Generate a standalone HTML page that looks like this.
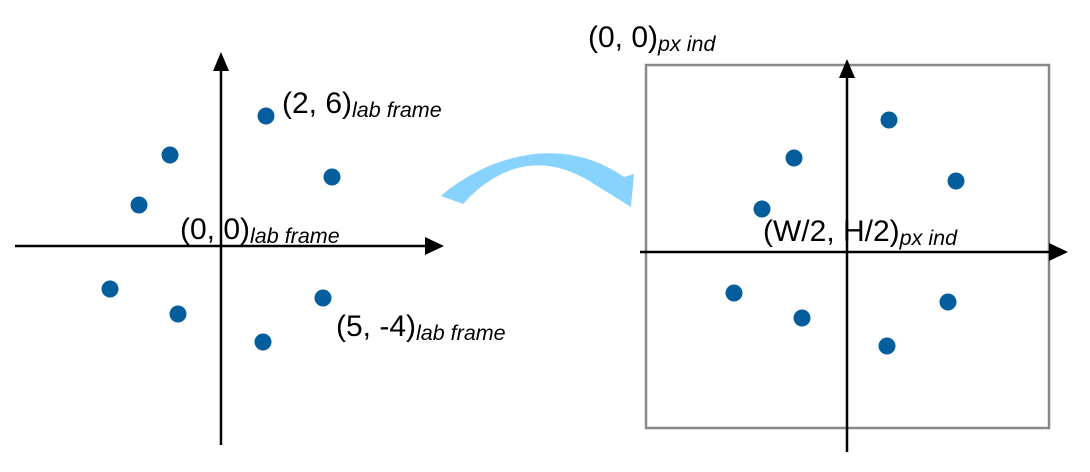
<!DOCTYPE html>
<html><head><meta charset="utf-8"><style>
html,body{margin:0;padding:0;background:#fff}
svg{display:block}
text{font-family:"Liberation Sans",sans-serif;fill:#000}
</style></head><body>
<svg id="c" width="1090" height="472" viewBox="0 0 1090 472">
<g>
<line x1="15" y1="246" x2="430" y2="246" stroke="#000" stroke-width="2.5"/>
<line x1="221" y1="445" x2="221" y2="68" stroke="#000" stroke-width="2.5"/>
<path d="M213,71 L221,52 L229,71 Z" fill="#000"/>
<path d="M425,237 L444,246 L425,255 Z" fill="#000"/>
<g id="leftDots"></g>
<text x="282" y="113" font-size="30">(2, 6)<tspan font-size="21.5" font-style="italic" dy="4">lab frame</tspan></text>
<text x="180" y="239" font-size="30">(0, 0)<tspan font-size="21.5" font-style="italic" dy="4">lab frame</tspan></text>
<text x="336" y="336" font-size="30">(5, -4)<tspan font-size="21.5" font-style="italic" dy="4">lab frame</tspan></text>
</g>
<path d="M441,196 C485,158 560,132 624,177 L634,174 L631,207 L594,184 C545,152 500,163 463,204 Z" fill="#87d3fe"/>
<g>
<rect x="646" y="65" width="403" height="363" fill="none" stroke="#888" stroke-width="2.5"/>
<line x1="640" y1="252" x2="1052" y2="252" stroke="#000" stroke-width="2.5"/>
<path d="M1049,243 L1068,252 L1049,261 Z" fill="#000"/>
<line x1="847" y1="452" x2="847" y2="74" stroke="#000" stroke-width="2.5"/>
<path d="M839,78 L847,59 L855,78 Z" fill="#000"/>
<g id="rightDots"></g>
<text x="588" y="47" font-size="30">(0, 0)<tspan font-size="21.5" font-style="italic" dy="4">px ind</tspan></text>
<text x="763" y="241" font-size="30">(W/2, H/2)<tspan font-size="21.5" font-style="italic" dy="4">px ind</tspan></text>
</g>
</svg>
<script>
// point positions in lab-frame units (1 unit = 20px)
const labX = [2.25, -2.55, 5.55, -4.1, -5.55, -2.15, 5.1, 2.1];
const labY = [6.5, 4.55, 3.45, 2.05, -2.15, -3.4, -2.6, -4.8];
const pxX = [2.1, -2.65, 5.45, -4.25, -5.65, -2.25, 5.05, 2.0];
const pxY = [6.6, 4.7, 3.55, 2.15, -2.05, -3.3, -2.5, -4.7];
const ns = "http://www.w3.org/2000/svg";
function sx(ox, v){return ox + v*20;}
function sy(oy, v){return oy - v*20;}
function drawDots(gid, xs, ys, ox, oy, prefix){
  const g = document.getElementById(gid);
  for(let i=0;i<xs.length;i++){
    const c = document.createElementNS(ns,"circle");
    c.setAttribute("cx", sx(ox, xs[i]));
    c.setAttribute("cy", sy(oy, ys[i]));
    c.setAttribute("r", 8.5);
    c.setAttribute("fill", "#045d9c");
    
    
    g.appendChild(c);
  }
}
drawDots("leftDots", labX, labY, 221, 246, "lab");
drawDots("rightDots", pxX, pxY, 847, 252, "px");
</script>
</body></html>
